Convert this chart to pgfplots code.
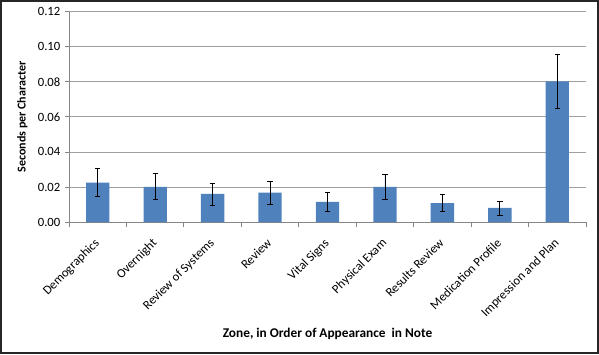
\documentclass[border=0pt]{standalone}
\usepackage{pgfplots}
\pgfplotsset{compat=1.18}
\usepackage{fontspec}
\setmainfont{Carlito}
\definecolor{barblue}{HTML}{4F81BD}
\definecolor{gridgray}{HTML}{A0A0A0}
\definecolor{axisgray}{HTML}{868686}
\begin{document}
\begin{tikzpicture}
\useasboundingbox (0,0) rectangle (449.25pt,265.5pt);
\draw[black!85, line width=1.5pt] (0.75pt,0.75pt) rectangle (448.5pt,264.75pt);
\begin{axis}[
  at={(51.75pt,99pt)}, anchor=south west,
  scale only axis, width=387.75pt, height=157.7pt,
  xmin=-0.5, xmax=8.5, ymin=0, ymax=0.12,
  axis x line*=bottom, axis y line*=left,
  axis line style={axisgray, line width=0.6pt},
  ymajorgrids, grid style={gridgray, line width=0.6pt},
  ytick={0,0.02,0.04,0.06,0.08,0.10,0.12},
  /pgf/number format/assume math mode=true,
  yticklabel style={/pgf/number format/.cd, fixed, fixed zerofill, precision=2, /tikz/.cd, font=\fontsize{9.5}{11}\selectfont},
  xtick={0,...,8},
  xticklabels={Demographics, Overnight, Review of Systems, Review, Vital Signs, Physical Exam, Results Review, Medication Profile, Impression and Plan},
  xticklabel style={xshift=-3pt, yshift=-7pt, rotate=45, anchor=north east, inner sep=1pt, font=\fontsize{9.5}{11}\selectfont},
  major x tick style={draw=none},
  minor xtick={-0.5,0.5,...,8.5},
  minor x tick style={axisgray, line width=0.6pt},
  minor tick length=4pt,
  major tick length=3pt,
  y tick style={axisgray, line width=0.6pt},
  tick align=outside,
  ylabel={\textbf{Seconds per Character}},
  ylabel style={at={(axis description cs:-0.09,0.5)}, anchor=center, font=\fontsize{9}{11}\selectfont},
  xlabel={\textbf{Zone, in Order of Appearance\ \ in Note}},
  xlabel style={at={(axis description cs:0.5,-0.533)}, anchor=center, font=\fontsize{10}{12}\selectfont},
  ybar, bar width=17.5pt,
]
\addplot[ybar, fill=barblue, draw=none,
  error bars/.cd, y dir=both, y explicit,
  error mark=|,
  error bar style={draw=black, line width=0.6pt},
  error mark options={draw=black, line width=0.6pt, mark size=2pt}]
  table[x=x, y=y, y error=err] {
x y err
0 0.0225 0.0080
1 0.0201 0.0074
2 0.0160 0.0063
3 0.0167 0.0066
4 0.0115 0.0052
5 0.0200 0.0072
6 0.0108 0.0049
7 0.0080 0.0040
8 0.0802 0.0152
};
\end{axis}
\end{tikzpicture}
\end{document}
